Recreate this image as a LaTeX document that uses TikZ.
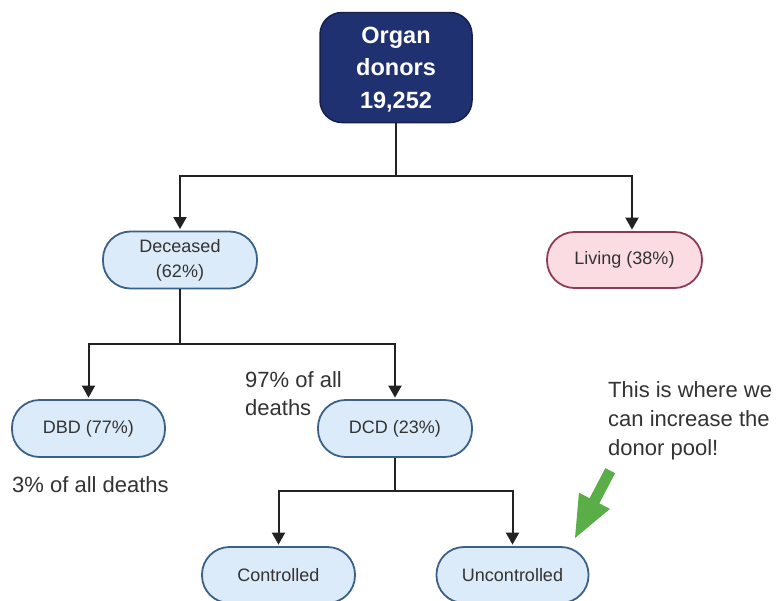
\documentclass[tikz,border=0pt]{standalone}
\usepackage{fontspec}
\setmainfont{Liberation Sans}
\usetikzlibrary{arrows.meta}
\definecolor{navyf}{HTML}{1F3170}
\definecolor{navyb}{HTML}{15204F}
\definecolor{bluef}{HTML}{DCEBFA}
\definecolor{blueb}{HTML}{3B6188}
\definecolor{pinkf}{HTML}{FBDCE3}
\definecolor{pinkb}{HTML}{8E3B58}
\definecolor{txt}{HTML}{333333}
\definecolor{conn}{HTML}{222222}
\definecolor{grn}{HTML}{5AAE47}
\begin{document}
\begin{tikzpicture}[x=1pt,y=1pt,
  pill/.style={draw=blueb, fill=bluef, line width=1.8pt, rounded corners=27.5pt,
    minimum width=153pt, minimum height=56pt, inner sep=0pt, align=center,
    text=txt, font=\fontsize{18}{25}\selectfont},
  pinkpill/.style={pill, draw=pinkb, fill=pinkf},
  topbox/.style={draw=navyb, fill=navyf, line width=1.5pt, rounded corners=22pt,
    minimum width=152pt, minimum height=110pt, inner sep=0pt, align=center,
    text=white, font=\fontsize{23.5}{32.5}\selectfont\bfseries},
  note/.style={inner sep=0pt, align=left, text=txt, font=\fontsize{22}{28}\selectfont},
  line/.style={draw=conn, line width=2pt},
  arr/.style={line, -{Triangle[length=12pt,width=13pt]}, shorten >=1.5pt}]
\useasboundingbox (0,0) rectangle (778,-600);
\fill[white] (0,0) rectangle (778,-600);

\node[topbox, text depth=-2pt] (top) at (396,-67.5) {Organ\\donors\\19,252};
\node[pill, minimum width=154pt, minimum height=57pt] (dec) at (180,-260) {Deceased\\(62\%)};
\node[pinkpill, minimum width=155pt] (liv) at (624.5,-260) {Living (38\%)};
\node[pill, minimum height=57pt] (dbd) at (88.5,-428.5) {DBD (77\%)};
\node[pill, minimum width=154pt, minimum height=57pt] (dcd) at (395,-428.5) {DCD (23\%)};
\node[pill] (con) at (278.5,-575) {Controlled};
\node[pill, minimum width=152pt] (unc) at (512.5,-575) {Uncontrolled};

\coordinate (j1) at (396,-176);
\coordinate (jl) at (632,-176);
\draw[line] (top.south) -- (j1);
\draw[arr] (j1) -| (dec.north);
\draw[arr] (j1) -- (jl) -- (jl |- liv.north);

\coordinate (j2) at (180,-344);
\draw[line] (dec.south) -- (j2);
\draw[arr] (j2) -| (dbd.north);
\draw[arr] (j2) -| (dcd.north);

\coordinate (j3) at (395,-491);
\draw[line] (dcd.south) -- (j3);
\draw[arr] (j3) -| (con.north);
\draw[arr] (j3) -| (unc.north);

\node[note, anchor=base west] (t97) at (245,-415) {97\% of all\\deaths};
\node[note, anchor=base west] (t3) at (12,-492) {3\% of all deaths};
\node[note, anchor=base west, font=\fontsize{22}{29}\selectfont] (tpool) at (608,-455) {This is where we\\can increase the\\donor pool!};

\begin{scope}[shift={(575,-538)}, rotate=242.4]
  \fill[grn] (0,0) -- (-42,17.5) -- (-42,5.5) -- (-76,5.5) -- (-76,-5.5) -- (-42,-5.5) -- (-42,-17.5) -- cycle;
\end{scope}
\end{tikzpicture}
\end{document}
